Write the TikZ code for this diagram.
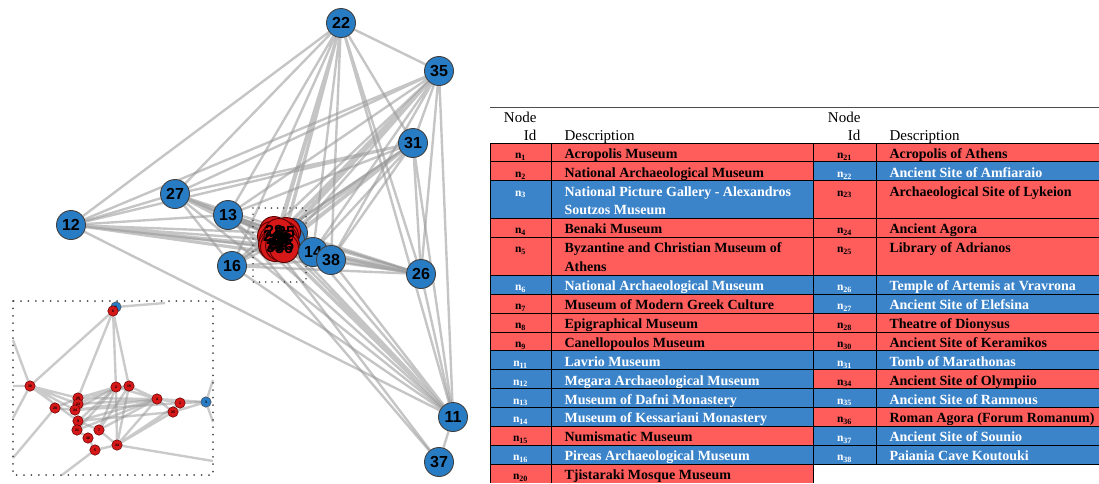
\documentclass[tikz,border=0pt]{standalone}
\usepackage{fontspec}
\setmainfont{Liberation Serif}
\setsansfont{Liberation Sans}
\usetikzlibrary{backgrounds}

\definecolor{cellred}{RGB}{255,92,92}
\definecolor{cellblue}{RGB}{60,132,202}
\definecolor{nodeblue}{RGB}{40,124,196}
\definecolor{nodered}{RGB}{214,24,24}
\definecolor{edgegray}{RGB}{150,150,150}

\tikzset{
  vert/.style={circle, draw=black!75, line width=0.9pt, fill=nodeblue, minimum size=29pt, inner sep=0pt, font=\sffamily\bfseries\fontsize{16}{16}\selectfont},
  hub/.style={vert, fill=nodered, draw=red!35!black},
  hubtext/.style={inner sep=0pt, font=\sffamily\bfseries\fontsize{16}{16}\selectfont},
  dot/.style={circle, draw=red!35!black, line width=0.5pt, fill=nodered, minimum size=10.5pt, inner sep=0pt, font=\sffamily\bfseries\fontsize{3.5}{3.5}\selectfont},
  bluedot/.style={dot, fill=nodeblue, draw=black!70},
  edge/.style={draw=edgegray, line width=2.4pt, opacity=0.55},
  zedge/.style={draw=edgegray, line width=2.4pt, opacity=0.5},
  frame/.style={draw=black!70, line width=2pt, line cap=round, dash pattern=on 0pt off 7.4pt},
  rule/.style={draw=black, line width=0.9pt},
  hdr/.style={font=\fontsize{15}{15}\selectfont},
  desc/.style={anchor=base west, font=\bfseries\fontsize{14}{14}\selectfont},
  idt/.style={anchor=base, font=\bfseries\fontsize{11.5}{11.5}\selectfont}
}

\begin{document}
\begin{tikzpicture}[x=1pt,y=-1pt]
\useasboundingbox (0,0) rectangle (1099,483);

% graph
\node[vert] (n22) at (341,23) {22};
\node[vert] (n35) at (439,71) {35};
\node[vert] (n31) at (413,143) {31};
\node[vert] (n27) at (175,194) {27};
\node[vert] (n12) at (71,225) {12};
\node[vert] (n13) at (228,215) {13};
\node[vert] (n16) at (232,266) {16};
\node[vert] (n26) at (421,274) {26};
\node[vert] (n11) at (453,417) {11};
\node[vert] (n37) at (439,462) {37};

\node[vert] (c6) at (293,233) {};
\node[vert] (c3) at (290,240) {};
\node[hub] (c28) at (274,231) {};
\node[hub] (c24) at (272,236) {};
\node[hub] (c25) at (286,232) {};
\node[hub] (c4) at (277,236) {};
\node[hub] (c5) at (284,236) {};
\node[hub] (c1) at (274,240) {};
\node[hub] (c20) at (278,240) {};
\node[hub] (c30) at (281,238) {};
\node[hub] (c23) at (283,239) {};
\node[hub] (c2) at (282,242) {};
\node[hub] (c9) at (273,245) {};
\node[hub] (c21) at (276,244) {};
\node[hub] (c15) at (285,245) {};
\node[hub] (c34) at (275,247) {};
\node[hub] (c7) at (280,246) {};
\node[hub] (c36) at (284,248) {};
\node[hub] (c8) at (279,233) {};
\node[hubtext] (l28) at (c28) {28};
\node[hubtext] (l24) at (c24) {24};
\node[hubtext] (l25) at (c25) {25};
\node[hubtext] (l4) at (c4) {4};
\node[hubtext] (l5) at (c5) {5};
\node[hubtext] (l1) at (c1) {1};
\node[hubtext] (l20) at (c20) {20};
\node[hubtext] (l30) at (c30) {30};
\node[hubtext] (l23) at (c23) {23};
\node[hubtext] (l2) at (c2) {2};
\node[hubtext] (l9) at (c9) {9};
\node[hubtext] (l21) at (c21) {21};
\node[hubtext] (l15) at (c15) {15};
\node[hubtext] (l34) at (c34) {34};
\node[hubtext] (l7) at (c7) {7};
\node[hubtext] (l36) at (c36) {36};
\node[hubtext] (l8) at (c8) {8};

\node[vert] (n14) at (313,252) {14};
\node[vert] (n38) at (331,260) {38};

% zoomed cluster
\node[bluedot] (z6) at (116,307) {6};
\node[dot] (z8) at (113,311) {8};
\node[dot] (z30) at (30,386) {30};
\node[dot] (z2) at (116,387) {2};
\node[dot] (z15) at (129,386) {15};
\node[dot] (z4) at (157,399) {4};
\node[dot] (z1) at (180,403) {1};
\node[bluedot] (z3) at (206,402) {3};
\node[dot] (z25) at (173,412) {25};
\node[dot] (z28) at (55,408) {28};
\node[dot] (z20) at (78,398) {20};
\node[dot] (z23) at (78,404) {23};
\node[dot] (z24) at (75,410) {24};
\node[dot] (z9) at (78,421) {9};
\node[dot] (z21) at (77,430) {21};
\node[dot] (z7) at (99,430) {7};
\node[dot] (z36) at (88,438) {36};
\node[dot] (z5) at (95,450) {5};
\node[dot] (z34) at (117,445) {34};

\coordinate (e1) at (165,303);
\coordinate (e2) at (13,340);
\coordinate (e3) at (13,386);
\coordinate (e4) at (13,418);
\coordinate (e5) at (13,458);
\coordinate (e6) at (62,475);
\coordinate (e7) at (213,461);
\coordinate (e8) at (213,380);
\coordinate (e9) at (213,422);

\begin{scope}[on background layer]
\draw[edge] (n22) -- (n12) (n22) -- (n35) (n22) -- (n27) (n22) -- (n13) (n22) -- (n14) (n22) -- (n38)
  (n22) -- (n16) (n22) -- (n31) (n22) -- (n26) (n22) -- (n11);
\draw[edge] (n35) -- (n27) (n35) -- (n13) (n35) -- (n31) (n35) -- (n26) (n35) -- (n11) (n35) -- (n14)
  (n35) -- (n38) (n35) -- (n16) (n35) -- (n12);
\draw[edge] (n31) -- (n27) (n31) -- (n26) (n31) -- (n11) (n31) -- (n14) (n31) -- (n38) (n31) -- (n16)
  (n31) -- (n13) (n31) -- (n12);
\draw[edge] (n27) -- (n12) (n27) -- (n14) (n27) -- (n38) (n27) -- (n26) (n27) -- (n16) (n27) -- (n11);
\draw[edge] (n12) -- (n14) (n12) -- (n38) (n12) -- (n11) (n12) -- (n13) (n12) -- (n26);
\draw[edge] (n13) -- (n37) (n13) -- (n11) (n13) -- (n38) (n13) -- (n26);
\draw[edge] (n16) -- (n11) (n16) -- (n26) (n16) -- (n38);
\draw[edge] (n14) -- (n26) (n38) -- (n26) (n38) -- (n11) (n14) -- (n11) (n11) -- (n37) (n26) -- (n11);
\draw[edge] (n22) -- (c8) (n22) -- (c2) (n22) -- (c5) (n22) -- (c21) (n22) -- (c25) (n22) -- (c9);
\draw[edge] (n35) -- (c8) (n35) -- (c1) (n35) -- (c4) (n35) -- (c23) (n35) -- (c30) (n35) -- (c36);
\draw[edge] (n31) -- (c8) (n31) -- (c5) (n31) -- (c7) (n31) -- (c15) (n31) -- (c20);
\draw[edge] (n27) -- (c8) (n27) -- (c9) (n27) -- (c24) (n27) -- (c28);
\draw[edge] (n12) -- (c8) (n12) -- (c1) (n12) -- (c34) (n12) -- (c9);
\draw[edge] (n13) -- (c8) (n13) -- (c24) (n16) -- (c8) (n16) -- (c21);
\draw[edge] (n26) -- (c8) (n26) -- (c2) (n26) -- (c7) (n26) -- (c36);
\draw[edge] (n11) -- (c8) (n11) -- (c7) (n11) -- (c15) (n11) -- (c21) (n37) -- (c34);

\draw[zedge] (z8) -- (z30) (z8) -- (z20) (z8) -- (z2) (z8) -- (z15) (z6) -- (e1);
\draw[zedge] (z30) -- (e2) (z30) -- (e3) (z30) -- (e4) (z30) -- (z20) (z30) -- (z24) (z30) -- (z9) (z30) -- (z23);
\draw[zedge] (z28) -- (e5) (z28) -- (z24) (z28) -- (z20);
\draw[zedge] (z20) -- (z2) (z20) -- (z4) (z20) -- (z15) (z23) -- (z4) (z23) -- (z2);
\draw[zedge] (z24) -- (z4) (z24) -- (z1) (z24) -- (z2);
\draw[zedge] (z9) -- (z4) (z9) -- (z2) (z9) -- (z25) (z9) -- (z7);
\draw[zedge] (z21) -- (z4) (z21) -- (z9) (z21) -- (z36) (z21) -- (z2);
\draw[zedge] (z7) -- (z2) (z7) -- (z4) (z7) -- (z15) (z7) -- (z34);
\draw[zedge] (z36) -- (z5) (z5) -- (z34) (z5) -- (e6);
\draw[zedge] (z34) -- (z2) (z34) -- (z15) (z34) -- (z4) (z34) -- (z25) (z34) -- (z1) (z34) -- (e7);
\draw[zedge] (z4) -- (z1) (z4) -- (z15) (z4) -- (z2) (z4) -- (z3) (z4) -- (z25);
\draw[zedge] (z1) -- (z3) (z25) -- (z3) (z3) -- (e8) (z3) -- (e9) (z2) -- (z15);

\draw[frame] (13,301) rectangle (213,475);
\draw[frame, line width=1.8pt, dash pattern=on 0pt off 6.2pt] (253,208) rectangle (306,282);
\end{scope}

% table fills
\fill[cellred] (490,143) rectangle (813,180.8);
\fill[cellblue] (490,180.8) rectangle (813,218.6);
\fill[cellred] (490,218.6) rectangle (813,275.3);
\fill[cellblue] (490,275.3) rectangle (813,294.2);
\fill[cellred] (490,294.2) rectangle (813,350.9);
\fill[cellblue] (490,350.9) rectangle (813,426.5);
\fill[cellred] (490,426.5) rectangle (813,445.4);
\fill[cellblue] (490,445.4) rectangle (813,464.3);
\fill[cellred] (490,464.3) rectangle (813,483.2);

\fill[cellred] (813,143) rectangle (1099,161.9);
\fill[cellblue] (813,161.9) rectangle (1099,180.8);
\fill[cellred] (813,180.8) rectangle (1099,275.3);
\fill[cellblue] (813,275.3) rectangle (1099,313.1);
\fill[cellred] (813,313.1) rectangle (1099,350.9);
\fill[cellblue] (813,350.9) rectangle (1099,369.8);
\fill[cellred] (813,369.8) rectangle (1099,388.7);
\fill[cellblue] (813,388.7) rectangle (1099,407.6);
\fill[cellred] (813,407.6) rectangle (1099,426.5);
\fill[cellblue] (813,426.5) rectangle (1099,464.3);

% table rules
\draw[draw=black!70, line width=0.8pt] (490,107) -- (1099,107);
\draw[rule] (490,143) -- (1099,143);
\draw[rule] (490,161.9) -- (1099,161.9) (490,180.8) -- (1099,180.8) (490,218.6) -- (1099,218.6)
  (490,237.5) -- (1099,237.5) (490,275.3) -- (1099,275.3) (490,294.2) -- (1099,294.2)
  (490,313.1) -- (1099,313.1) (490,332) -- (1099,332) (490,350.9) -- (1099,350.9)
  (490,369.8) -- (1099,369.8) (490,388.7) -- (1099,388.7) (490,407.6) -- (1099,407.6)
  (490,426.5) -- (1099,426.5) (490,445.4) -- (1099,445.4) (490,464.3) -- (1099,464.3);
\draw[rule] (490,143) -- (490,483.2) (551,143) -- (551,483.2) (813,143) -- (813,483.2) (876,143) -- (876,464.3);

% header
\node[hdr, anchor=base east] (h1) at (540,122.5) {Node};
\node[hdr, anchor=base east] (h2) at (540,140) {Id};
\node[hdr, anchor=base west] (h3) at (561,140) {Description};
\node[hdr, anchor=base east] (h4) at (864,122.5) {Node};
\node[hdr, anchor=base east] (h5) at (864,140) {Id};
\node[hdr, anchor=base west] (h6) at (886,140) {Description};

% left table
\node[idt] (i1) at (520.5,158.3) {n\textsubscript{1}};
\node[desc] (t1) at (561,158.3) {Acropolis Museum};
\node[idt] (i2) at (520.5,177.2) {n\textsubscript{2}};
\node[desc] (t2) at (561,177.2) {National Archaeological Museum};
\node[idt, text=white] (i3) at (520.5,196.1) {n\textsubscript{3}};
\node[desc, text=white] (t3) at (561,196.1) {National Picture Gallery - Alexandros};
\node[desc, text=white] (t3b) at (561,214.6) {Soutzos Museum};
\node[idt] (i4) at (520.5,233.9) {n\textsubscript{4}};
\node[desc] (t4) at (561,233.9) {Benaki Museum};
\node[idt] (i5) at (520.5,252.8) {n\textsubscript{5}};
\node[desc] (t5) at (561,252.8) {Byzantine and Christian Museum of};
\node[desc] (t5b) at (561,271.3) {Athens};
\node[idt, text=white] (i6) at (520.5,290.6) {n\textsubscript{6}};
\node[desc, text=white] (t6) at (561,290.6) {National Archaeological Museum};
\node[idt] (i7) at (520.5,309.5) {n\textsubscript{7}};
\node[desc] (t7) at (561,309.5) {Museum of Modern Greek Culture};
\node[idt] (i8) at (520.5,328.4) {n\textsubscript{8}};
\node[desc] (t8) at (561,328.4) {Epigraphical Museum};
\node[idt] (i9) at (520.5,347.3) {n\textsubscript{9}};
\node[desc] (t9) at (561,347.3) {Canellopoulos Museum};
\node[idt, text=white] (i11) at (520.5,366.2) {n\textsubscript{11}};
\node[desc, text=white] (t11) at (561,366.2) {Lavrio Museum};
\node[idt, text=white] (i12) at (520.5,385.1) {n\textsubscript{12}};
\node[desc, text=white] (t12) at (561,385.1) {Megara Archaeological Museum};
\node[idt, text=white] (i13) at (520.5,404) {n\textsubscript{13}};
\node[desc, text=white] (t13) at (561,404) {Museum of Dafni Monastery};
\node[idt, text=white] (i14) at (520.5,422.9) {n\textsubscript{14}};
\node[desc, text=white] (t14) at (561,422.9) {Museum of Kessariani Monastery};
\node[idt] (i15) at (520.5,441.8) {n\textsubscript{15}};
\node[desc] (t15) at (561,441.8) {Numismatic Museum};
\node[idt, text=white] (i16) at (520.5,460.7) {n\textsubscript{16}};
\node[desc, text=white] (t16) at (561,460.7) {Pireas Archaeological Museum};
\node[idt] (i20) at (520.5,479.6) {n\textsubscript{20}};
\node[desc] (t20) at (561,479.6) {Tjistaraki Mosque Museum};

% right table
\node[idt] (i21) at (844.5,158.3) {n\textsubscript{21}};
\node[desc] (t21) at (886,158.3) {Acropolis of Athens};
\node[idt, text=white] (i22) at (844.5,177.2) {n\textsubscript{22}};
\node[desc, text=white] (t22) at (886,177.2) {Ancient Site of Amfiaraio};
\node[idt] (i23) at (844.5,196.1) {n\textsubscript{23}};
\node[desc] (t23) at (886,196.1) {Archaeological Site of Lykeion};
\node[idt] (i24) at (844.5,233.9) {n\textsubscript{24}};
\node[desc] (t24) at (886,233.9) {Ancient Agora};
\node[idt] (i25) at (844.5,252.8) {n\textsubscript{25}};
\node[desc] (t25) at (886,252.8) {Library of Adrianos};
\node[idt, text=white] (i26) at (844.5,290.6) {n\textsubscript{26}};
\node[desc, text=white] (t26) at (886,290.6) {Temple of Artemis at Vravrona};
\node[idt, text=white] (i27) at (844.5,309.5) {n\textsubscript{27}};
\node[desc, text=white] (t27) at (886,309.5) {Ancient Site of Elefsina};
\node[idt] (i28) at (844.5,328.4) {n\textsubscript{28}};
\node[desc] (t28) at (886,328.4) {Theatre of Dionysus};
\node[idt] (i30) at (844.5,347.3) {n\textsubscript{30}};
\node[desc] (t30) at (886,347.3) {Ancient Site of Keramikos};
\node[idt, text=white] (i31) at (844.5,366.2) {n\textsubscript{31}};
\node[desc, text=white] (t31) at (886,366.2) {Tomb of Marathonas};
\node[idt] (i34) at (844.5,385.1) {n\textsubscript{34}};
\node[desc] (t34) at (886,385.1) {Ancient Site of Olympiio};
\node[idt, text=white] (i35) at (844.5,404) {n\textsubscript{35}};
\node[desc, text=white] (t35) at (886,404) {Ancient Site of Ramnous};
\node[idt] (i36) at (844.5,422.9) {n\textsubscript{36}};
\node[desc] (t36) at (886,422.9) {Roman Agora (Forum Romanum)};
\node[idt, text=white] (i37) at (844.5,441.8) {n\textsubscript{37}};
\node[desc, text=white] (t37) at (886,441.8) {Ancient Site of Sounio};
\node[idt, text=white] (i38) at (844.5,460.7) {n\textsubscript{38}};
\node[desc, text=white] (t38) at (886,460.7) {Paiania Cave Koutouki};
\end{tikzpicture}
\end{document}
